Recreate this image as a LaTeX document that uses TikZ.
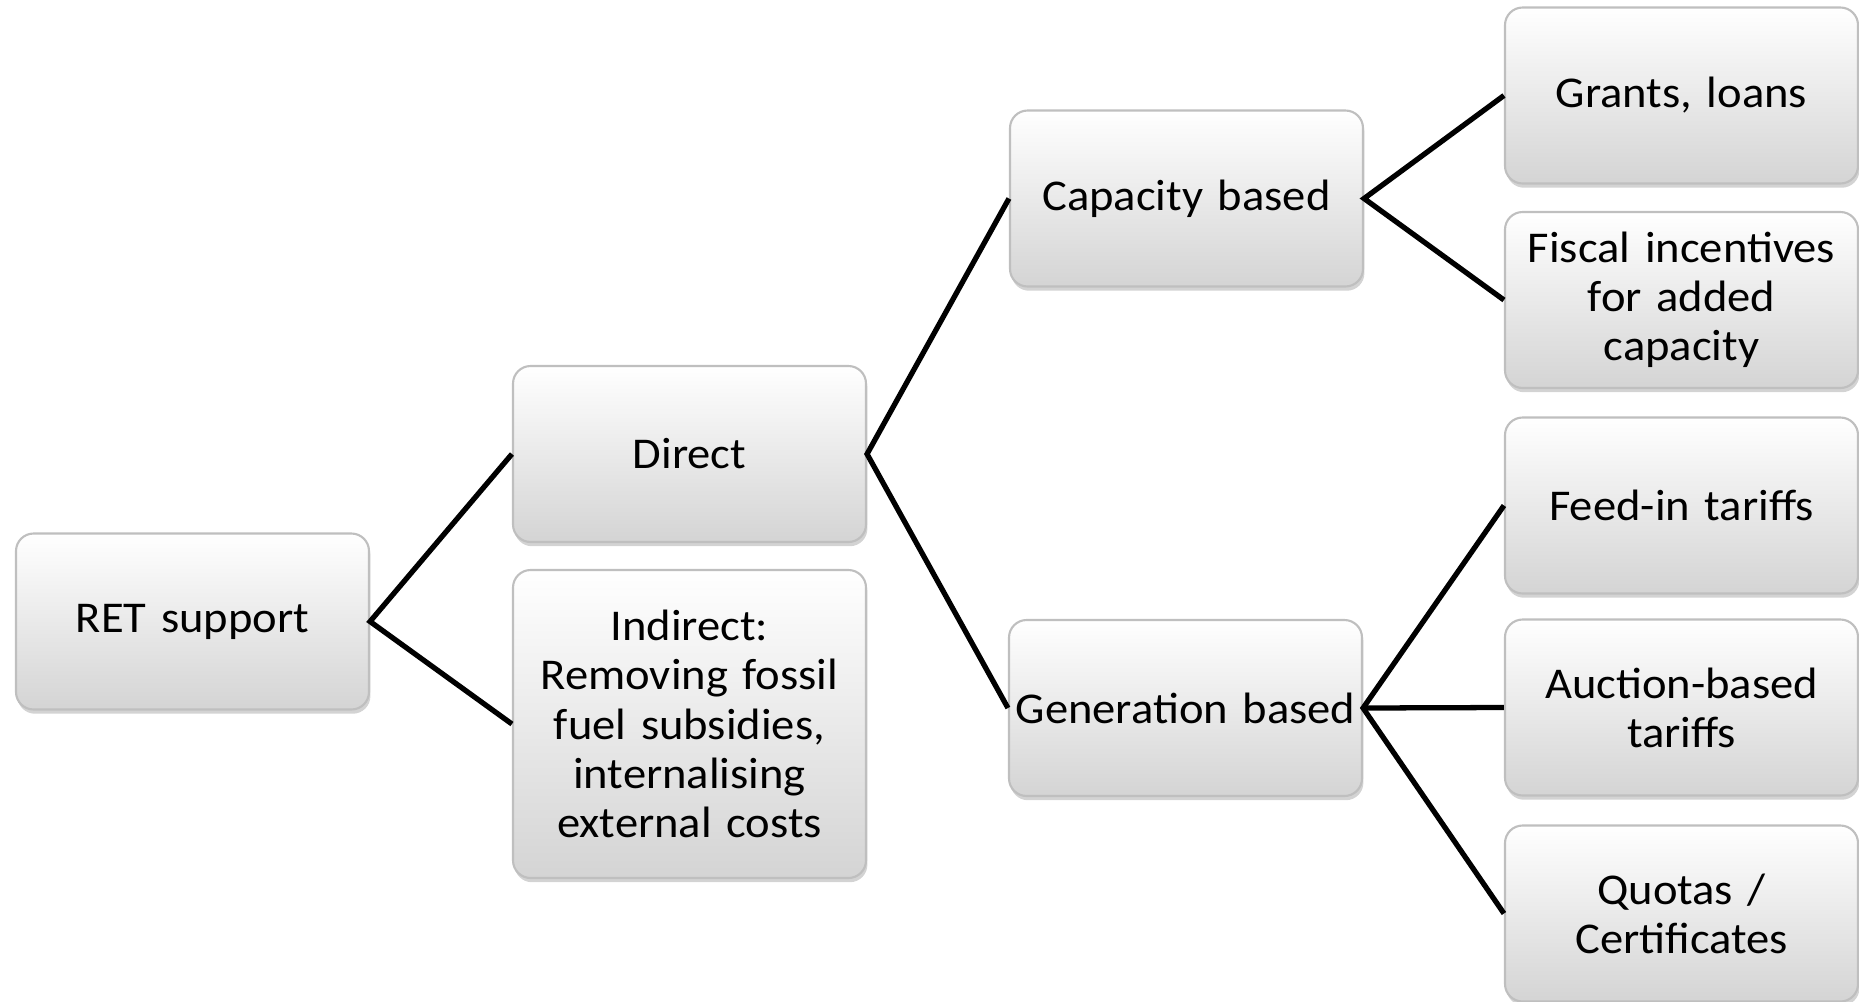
\documentclass[tikz,border=0pt]{standalone}
\usepackage{fontspec}
\setmainfont{Carlito}[FakeStretch=1.06,WordSpace=0.75]
\usepackage{tikz}
\usetikzlibrary{shadows}
\definecolor{edge}{HTML}{BFBFBF}
\definecolor{shadebot}{HTML}{D4D4D4}

\begin{document}
\begin{tikzpicture}[
    box/.style={draw=edge, line width=0.6pt, top color=white, bottom color=shadebot, rounded corners=5pt,
      minimum width=3.53cm, minimum height=1.76cm, inner xsep=1pt, text width=3.45cm, align=center,
      font=\fontsize{12.5}{14}\selectfont, drop shadow={shadow xshift=0.4pt, shadow yshift=-1.2pt, opacity=0.35}},
    link/.style={line width=1.5pt, draw=black, line join=miter}
  ]
    \useasboundingbox (0,0) rectangle (18.59,-10.01);
    \node[box] (ret) at (1.925,-6.215) {RET support};
    \node[box] (direct) at (6.895,-4.54) {Direct};
    \node[box, minimum height=3.08cm] (indirect) at (6.895,-7.24) {Indirect:\\Removing fossil\\fuel subsidies,\\internalising\\external costs};
    \node[box] (capacity) at (11.865,-1.985) {Capacity based};
    \node[box] (generation) at (11.855,-7.08) {Generation based};
    \node[box] (grants) at (16.815,-0.955) {Grants, loans};
    \node[box] (fiscal) at (16.815,-3.0) {Fiscal incentives\\for added\\capacity};
    \node[box] (feedin) at (16.815,-5.055) {Feed-in tariffs};
    \node[box] (auction) at (16.815,-7.075) {Auction-based\\tariffs};
    \node[box] (quotas) at (16.815,-9.135) {Quotas /\\Certificates};
    \draw[link] (direct.west) -- (ret.east) -- (indirect.west);
    \draw[link] (capacity.west) -- (direct.east) -- (generation.west);
    \draw[link] (grants.west) -- (capacity.east) -- (fiscal.west);
    \draw[link] (feedin.west) -- (generation.east) -- (quotas.west);
    \draw[link] (generation.east) -- (auction.west);
  \end{tikzpicture}
\end{document}
